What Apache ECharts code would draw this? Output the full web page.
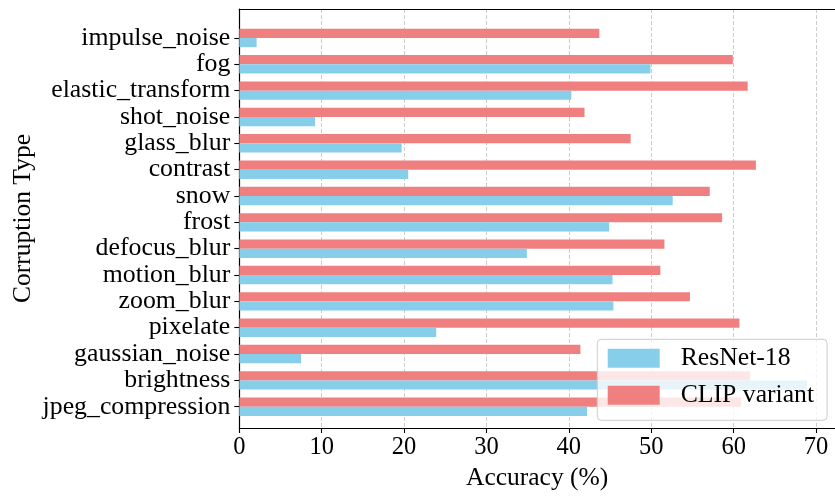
<!DOCTYPE html>
<html>
<head>
<meta charset="utf-8">
<script src="https://cdn.jsdelivr.net/npm/echarts@6/dist/echarts.min.js"></script>
<style>
  html, body { margin: 0; padding: 0; background: #ffffff; }
  #chart { width: 835px; height: 496px; }
</style>
</head>
<body>
<div id="chart"></div>
<script>
// Corruption types, listed bottom to top
const categories = [
  'jpeg_compression', 'brightness', 'gaussian_noise', 'pixelate', 'zoom_blur',
  'motion_blur', 'defocus_blur', 'frost', 'snow', 'contrast',
  'glass_blur', 'shot_noise', 'elastic_transform', 'fog', 'impulse_noise'
];

// Accuracy (%) per corruption type
const resnet18 = [42.2, 68.9, 7.5, 23.9, 45.4, 45.3, 34.9, 44.9, 52.6, 20.5, 19.7, 9.2, 40.3, 49.9, 2.1];
const clipVariant = [60.9, 62.0, 41.4, 60.7, 54.7, 51.1, 51.6, 58.6, 57.1, 62.7, 47.5, 41.9, 61.7, 59.9, 43.7];

const xTicks = [0, 10, 20, 30, 40, 50, 60, 70];

const FONT = 'Liberation Serif, Times New Roman, serif';
const X_MAX = 72.3;

const chart = echarts.init(document.getElementById('chart'), null, { renderer: 'canvas' });

const option = {
  backgroundColor: '#ffffff',
  animation: false,
  grid: [
    // frame: spines, gridlines, x axis
    { left: 239.3, top: 9, width: 598.4, height: 424, containLabel: false },
    // bars and category labels
    { left: 239.3, top: 24.8, width: 598.4, height: 395.1, containLabel: false }
  ],
  legend: {
    z: 20,
    orient: 'vertical',
    left: 597.3,
    top: 339.3,
    data: ['ResNet-18', 'CLIP variant'],
    itemWidth: 52,
    itemHeight: 19,
    itemGap: 11,
    padding: [6, 13, 12, 10.4],
    backgroundColor: 'rgba(255,255,255,0.8)',
    borderColor: '#cccccc',
    borderWidth: 1,
    borderRadius: 4,
    icon: 'rect',
    textStyle: {
      fontFamily: FONT,
      fontSize: 25.7,
      lineHeight: 26,
      color: '#000000',
      padding: [0, 0, 0, 16]
    }
  },
  xAxis: [
    {
      gridIndex: 0,
      type: 'value',
      min: 0,
      max: X_MAX,
      interval: 10,
      position: 'bottom',
      name: 'Accuracy (%)',
      nameLocation: 'middle',
      nameGap: 37,
      nameTextStyle: { fontFamily: FONT, fontSize: 25.5, color: '#000000' },
      axisLine: { show: true, lineStyle: { color: '#000000', width: 1.2 } },
      axisTick: { show: true, length: 5, lineStyle: { color: '#000000', width: 1.1 }, customValues: xTicks },
      axisLabel: {
        show: true,
        margin: 7,
        fontFamily: FONT,
        fontSize: 24.5,
        color: '#000000',
        customValues: xTicks
      },
      splitLine: {
        show: true,
        lineStyle: { color: '#cccccc', width: 1, type: [4, 2] }
      }
    },
    {
      gridIndex: 0,
      type: 'value',
      min: 0,
      max: X_MAX,
      position: 'top',
      axisLine: { show: true, lineStyle: { color: '#000000', width: 1.2 } },
      axisTick: { show: false },
      axisLabel: { show: false },
      splitLine: { show: false }
    },
    {
      gridIndex: 1,
      type: 'value',
      min: 0,
      max: X_MAX,
      show: false,
      splitLine: { show: false }
    }
  ],
  yAxis: [
    {
      gridIndex: 0,
      type: 'value',
      min: 0,
      max: 1,
      name: 'Corruption Type',
      nameLocation: 'middle',
      nameRotate: 90,
      nameGap: 203,
      nameTextStyle: { fontFamily: FONT, fontSize: 25.5, color: '#000000' },
      axisLine: { show: true, lineStyle: { color: '#000000', width: 1.2 } },
      axisTick: { show: false },
      axisLabel: { show: false },
      splitLine: { show: false }
    },
    {
      gridIndex: 1,
      type: 'category',
      data: categories,
      axisLine: { show: false },
      axisTick: { show: true, alignWithLabel: true, interval: 0, length: 5, lineStyle: { color: '#000000', width: 1.1 } },
      axisLabel: {
        interval: 0,
        margin: 9,
        fontFamily: FONT,
        fontSize: 25.8,
        color: '#000000'
      },
      splitLine: { show: false }
    }
  ],
  // CLIP listed first so its bars sit above the ResNet bars in each row
  series: [
    {
      name: 'CLIP variant',
      type: 'bar',
      xAxisIndex: 2,
      yAxisIndex: 1,
      data: clipVariant,
      barWidth: '35%',
      barGap: '0%',
      itemStyle: { color: '#F08080' }
    },
    {
      name: 'ResNet-18',
      type: 'bar',
      xAxisIndex: 2,
      yAxisIndex: 1,
      data: resnet18,
      barWidth: '35%',
      barGap: '0%',
      itemStyle: { color: '#87CEEB' }
    }
  ]
};

chart.setOption(option);
</script>
</body>
</html>
